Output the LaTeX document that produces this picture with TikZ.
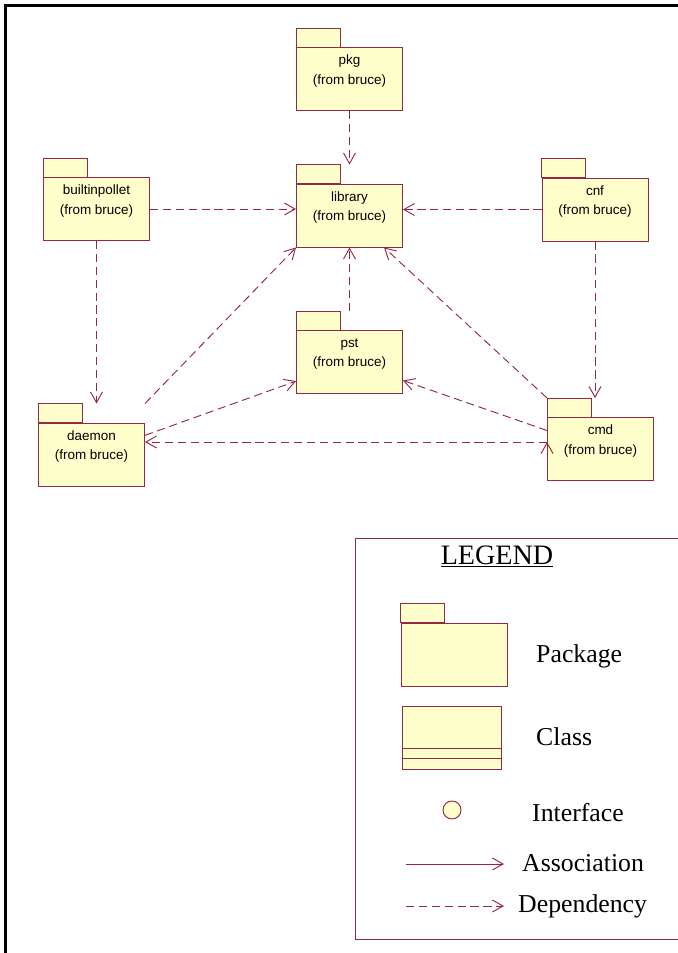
\documentclass[tikz,border=0pt]{standalone}
\usepackage{fontspec}
\setmainfont{Liberation Serif}
\newfontfamily\rosefont{Liberation Sans}
\usetikzlibrary{arrows.meta}
\definecolor{roseline}{RGB}{150,40,70}
\definecolor{rosefill}{RGB}{255,255,204}
\definecolor{legendline}{RGB}{130,50,60}
\tikzset{pkg box/.style={rectangle,draw=roseline,fill=rosefill,line width=0.8pt,minimum width=3.18cm,minimum height=1.89cm,inner sep=0pt},
  pkg text/.style={align=center,font=\rosefont\fontsize{11.5}{13.8}\selectfont,yshift=0.24cm},
  dep/.style={draw=roseline,line width=0.8pt,dash pattern=on 7pt off 4pt,-{Straight Barb[length=3.2mm,width=3.6mm]}},
  assoc/.style={draw=roseline,line width=0.8pt,-{Straight Barb[length=3.2mm,width=3.6mm]}},
  legend text/.style={font=\fontsize{22}{26}\selectfont,anchor=base west,inner sep=0pt}}

\begin{document}
\begin{tikzpicture}[x=0.03cm,y=-0.03cm]
            \useasboundingbox (0,0) rectangle (678,953);
            \draw[line width=2.2pt] (690,5.5) -- (5.5,5.5) -- (5.5,965);

            \node[pkg box, label={[pkg text]center:{pkg\\[3pt](from bruce)}}] (pkg) at (349.5,79) {};
            \node[pkg box, label={[pkg text]center:{builtinpollet\\[3pt](from bruce)}}] (builtin) at (96.5,209) {};
            \node[pkg box, label={[pkg text]center:{library\\[3pt](from bruce)}}] (library) at (349.5,215.5) {};
            \node[pkg box, label={[pkg text]center:{cnf\\[3pt](from bruce)}}] (cnf) at (595,209.5) {};
            \node[pkg box, label={[pkg text]center:{pst\\[3pt](from bruce)}}] (pst) at (349.5,362) {};
            \node[pkg box, label={[pkg text]center:{daemon\\[3pt](from bruce)}}] (daemon) at (91.5,454.5) {};
            \node[pkg box, label={[pkg text]center:{cmd\\[3pt](from bruce)}}] (cmd) at (600.5,449) {};

            % legend
            \draw[legendline, line width=0.8pt] (355,538) rectangle (690,939);
            \node[legend text, anchor=base] (legend title) at (497,564) {\fontsize{24}{28}\selectfont\underline{LEGEND}};
            \node[pkg box] (legpkg) at (454,654.5) {};
            \node[pkg box, minimum width=2.97cm] (legclass) at (451.5,737.5) {};
            \draw[roseline, line width=0.8pt] ([yshift=0.63cm]legclass.south west) -- ([yshift=0.63cm]legclass.south east)
                ([yshift=0.33cm]legclass.south west) -- ([yshift=0.33cm]legclass.south east);
            \node[circle, draw=roseline, fill=rosefill, line width=0.8pt, minimum size=0.54cm, inner sep=0pt] (legiface) at (452,810) {};
            \coordinate (assoc a) at (406,864);
            \coordinate (assoc b) at (504,864);
            \coordinate (dep a) at (406,906);
            \coordinate (dep b) at (504,906);
            \draw[assoc] (assoc a) -- (assoc b);
            \draw[dep] (dep a) -- (dep b);
            \node[legend text] (legpkg text) at (536,662) {Package};
            \node[legend text] (legclass text) at (536,745) {Class};
            \node[legend text] (legiface text) at (532,821) {Interface};
            \node[legend text] (legassoc text) at (522,871) {Association};
            \node[legend text] (legdep text) at (518,912) {Dependency};

            % tabs on top of the packages
            \foreach \n in {pkg,builtin,library,cnf,pst,daemon,cmd,legpkg}
              \draw[roseline, fill=rosefill, line width=0.8pt] (\n.north west) rectangle ++(44,-19);
            \coordinate (librarytop) at ([yshift=0.57cm]library.north);
            \coordinate (psttop) at ([yshift=0.57cm]pst.north);
            \coordinate (daemontop) at ([yshift=0.57cm]daemon.north);
            \coordinate (cmdtop) at ([yshift=0.57cm]cmd.north);

            \path[dep]
            (pkg) edge (librarytop)
            (builtin.east) edge (builtin.east -| library.west)
            (cnf.west) edge (cnf.west -| library.east)
            (builtin.south) edge (builtin.south |- daemontop)
            (cnf.south) edge (cnf.south |- cmdtop)
            (psttop) edge (library)
            ([yshift=0.57cm]daemon.north east) edge (library.south west)
            (daemon) edge (pst)
            (cmd) edge (pst)
            ([yshift=0.57cm]cmd.north west) edge (library)
            ([yshift=0.21cm]cmd.west) edge ([yshift=0.375cm]daemon.east);
        \end{tikzpicture}
\end{document}
